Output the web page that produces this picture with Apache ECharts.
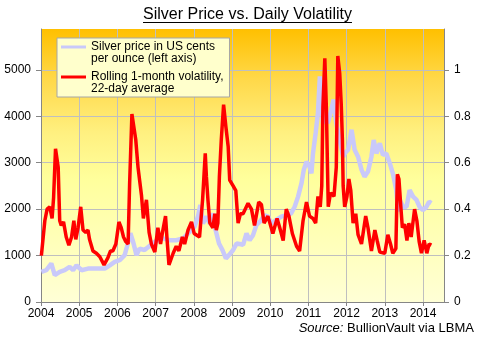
<!DOCTYPE html>
<html><head><meta charset="utf-8">
<script src="https://cdn.jsdelivr.net/npm/echarts@6/dist/echarts.min.js"></script>
<style>html,body{margin:0;padding:0;background:#fff}#c{width:480px;height:340px}</style>
</head><body><div id="c"></div>
<script>
const FONT = '"Liberation Sans", Arial, sans-serif';

const titleText = 'Silver Price vs. Daily Volatility';
const sourceLabel = 'Source:';
const sourceText = 'BullionVault via LBMA';
const seriesNames = ['Silver price in US cents\nper ounce (left axis)', 'Rolling 1-month volatility,\n22-day average'];

const priceDates = [2004.01,2004.14,2004.27,2004.36,2004.49,2004.62,2004.75,2004.84,2004.93,2005.06,2005.23,2005.45,2005.67,2005.80,2005.93,2006.06,2006.19,2006.25,2006.34,2006.41,2006.50,2006.58,2006.71,2006.98,2007.19,2007.37,2007.54,2007.72,2007.89,2008.02,2008.11,2008.17,2008.24,2008.33,2008.42,2008.50,2008.57,2008.66,2008.75,2008.84,2008.92,2009.03,2009.12,2009.20,2009.29,2009.38,2009.46,2009.55,2009.64,2009.73,2009.86,2009.94,2010.03,2010.16,2010.29,2010.42,2010.55,2010.64,2010.73,2010.82,2010.88,2010.95,2011.03,2011.08,2011.12,2011.19,2011.25,2011.30,2011.34,2011.38,2011.45,2011.51,2011.60,2011.66,2011.73,2011.82,2011.91,2011.95,2012.04,2012.13,2012.21,2012.30,2012.39,2012.47,2012.56,2012.65,2012.71,2012.78,2012.87,2012.95,2013.04,2013.13,2013.21,2013.30,2013.35,2013.39,2013.48,2013.57,2013.65,2013.74,2013.83,2013.91,2014.00,2014.09,2014.16,2014.22];
const priceCents = [650,685,830,580,650,685,755,685,790,685,720,720,720,790,865,900,1010,1190,1480,1300,1010,1150,1120,1300,1370,1330,1330,1370,1510,1620,1840,2090,1690,1840,1690,1910,1550,1260,1120,940,1010,1120,1260,1250,1230,1480,1330,1440,1660,1730,1870,1840,1690,1770,1840,1870,1910,2050,2270,2560,2850,3020,2920,2770,3200,3640,4070,4860,4430,3850,4000,3850,4140,4360,3850,3490,3130,3200,3280,3710,3280,3130,2850,2700,2810,3130,3490,3200,3420,3170,3200,2990,2770,2410,1950,2200,2050,2050,2410,2270,2200,2050,1980,2050,2160,2130];

const volDates = [2004.01,2004.10,2004.16,2004.23,2004.29,2004.33,2004.38,2004.40,2004.45,2004.49,2004.53,2004.59,2004.66,2004.73,2004.80,2004.86,2004.91,2004.97,2005.04,2005.10,2005.17,2005.23,2005.27,2005.36,2005.45,2005.54,2005.65,2005.75,2005.82,2005.88,2005.96,2006.04,2006.10,2006.16,2006.22,2006.28,2006.32,2006.38,2006.43,2006.48,2006.54,2006.63,2006.68,2006.76,2006.83,2006.89,2006.98,2007.06,2007.13,2007.18,2007.26,2007.30,2007.35,2007.46,2007.54,2007.61,2007.70,2007.76,2007.85,2007.94,2008.01,2008.15,2008.23,2008.27,2008.30,2008.33,2008.37,2008.42,2008.50,2008.55,2008.59,2008.63,2008.67,2008.72,2008.78,2008.84,2008.90,2008.94,2009.03,2009.10,2009.16,2009.22,2009.29,2009.42,2009.51,2009.59,2009.70,2009.77,2009.84,2009.94,2010.07,2010.18,2010.25,2010.34,2010.42,2010.49,2010.58,2010.69,2010.77,2010.86,2010.95,2011.03,2011.12,2011.19,2011.25,2011.31,2011.35,2011.38,2011.43,2011.47,2011.50,2011.52,2011.58,2011.63,2011.67,2011.73,2011.77,2011.82,2011.86,2011.89,2011.91,2011.95,2012.01,2012.06,2012.11,2012.17,2012.24,2012.30,2012.39,2012.50,2012.56,2012.65,2012.74,2012.80,2012.87,2013.00,2013.08,2013.15,2013.21,2013.29,2013.33,2013.37,2013.42,2013.46,2013.52,2013.58,2013.63,2013.69,2013.78,2013.84,2013.90,2013.96,2014.03,2014.10,2014.16,2014.22];
const volValues = [0.20,0.35,0.40,0.41,0.36,0.45,0.66,0.655,0.58,0.35,0.33,0.345,0.28,0.245,0.28,0.35,0.27,0.32,0.41,0.31,0.30,0.31,0.27,0.22,0.21,0.195,0.16,0.19,0.22,0.22,0.25,0.345,0.32,0.28,0.26,0.25,0.51,0.81,0.805,0.70,0.58,0.46,0.36,0.44,0.30,0.25,0.215,0.32,0.25,0.30,0.37,0.27,0.16,0.21,0.24,0.22,0.28,0.25,0.31,0.345,0.295,0.28,0.44,0.555,0.64,0.54,0.44,0.34,0.32,0.38,0.31,0.34,0.54,0.70,0.85,0.755,0.67,0.525,0.50,0.48,0.34,0.38,0.38,0.425,0.40,0.33,0.43,0.42,0.34,0.37,0.295,0.36,0.32,0.265,0.40,0.37,0.295,0.24,0.22,0.35,0.43,0.37,0.36,0.34,0.455,0.41,0.50,0.84,1.05,0.84,0.58,0.41,0.47,0.475,0.455,0.58,1.06,0.985,0.85,0.70,0.50,0.41,0.455,0.53,0.48,0.34,0.38,0.29,0.25,0.37,0.32,0.22,0.31,0.265,0.215,0.21,0.29,0.25,0.21,0.23,0.55,0.53,0.41,0.32,0.335,0.265,0.34,0.28,0.40,0.35,0.26,0.21,0.265,0.21,0.25,0.245];

const xMin = 2004, xMax = 2014.55;
const leftMax = 5880, rightMax = 1.176;

const PRICE_COLOR = '#C9C9FA';
const VOL_COLOR = '#FF0000';

const cv = document.createElement('canvas').getContext('2d');
cv.font = '16px ' + FONT;
const titleW = cv.measureText(titleText).width;
const titleX = 247.5;

const chart = echarts.init(document.getElementById('c'), null, {renderer: 'canvas'});
const axisLineStyle = {color: '#868686', width: 1};
const labelStyle = {fontFamily: FONT, fontSize: 12, color: '#000'};
const iconPath = 'path://M0,0L25,0M0,3.5L25,3.5L25,6.5L0,6.5ZM0,22L25,22';

chart.setOption({
  animation: false,
  grid: {
    left: 41, right: 36, top: 29, bottom: 38, show: true, borderWidth: 0,
    backgroundColor: new echarts.graphic.LinearGradient(0, 0, 0, 1, [
      {offset: 0, color: '#FFC000'},
      {offset: 0.18, color: '#FFD848'},
      {offset: 0.38, color: '#FFF080'},
      {offset: 0.55, color: '#FFFF9C'},
      {offset: 1, color: '#FFFFD6'}
    ])
  },
  legend: {
    orient: 'vertical', left: 57, top: 38, padding: [3, 6, 2, 4], itemGap: 6,
    itemWidth: 25, itemHeight: 22, symbolKeepAspect: false,
    backgroundColor: '#FFFFCC', borderColor: '#A6A6A6', borderWidth: 1, borderRadius: 0,
    textStyle: {fontFamily: FONT, fontSize: 12, lineHeight: 12, color: '#000'},
    itemStyle: {borderWidth: 0},
    selectedMode: false,
    data: [
      {name: seriesNames[0], icon: iconPath, itemStyle: {color: PRICE_COLOR, borderWidth: 0}},
      {name: seriesNames[1], icon: iconPath, itemStyle: {color: VOL_COLOR, borderWidth: 0}}
    ]
  },
  xAxis: {
    type: 'value', min: xMin, max: xMax, interval: 1,
    axisLine: {show: true, lineStyle: axisLineStyle},
    axisTick: {show: true, length: 4, lineStyle: axisLineStyle},
    axisLabel: Object.assign({margin: 6, showMaxLabel: false, formatter: v => String(Math.round(v))}, labelStyle),
    splitLine: {show: true, showMaxLine: false, lineStyle: {color: '#BFBFBF', width: 1}}
  },
  yAxis: [
    {
      type: 'value', min: 0, max: leftMax, interval: 1000, position: 'left',
      axisLine: {show: true, lineStyle: axisLineStyle},
      axisTick: {show: true, length: 5, lineStyle: axisLineStyle},
      axisLabel: Object.assign({margin: 10, showMaxLabel: false, formatter: v => String(Math.round(v))}, labelStyle),
      splitLine: {show: true, showMaxLine: false, lineStyle: {color: '#BFBFBF', width: 1}}
    },
    {
      type: 'value', min: 0, max: rightMax, interval: 0.2, position: 'right',
      axisLine: {show: true, lineStyle: axisLineStyle},
      axisTick: {show: true, length: 5, lineStyle: axisLineStyle},
      axisLabel: Object.assign({margin: 10, showMaxLabel: false, formatter: v => String(+v.toFixed(1))}, labelStyle),
      splitLine: {show: false}
    }
  ],
  series: [
    {
      type: 'line', name: seriesNames[0], yAxisIndex: 0,
      data: priceDates.map((d, i) => [d, priceCents[i]]),
      showSymbol: false, symbol: 'none',
      lineStyle: {color: PRICE_COLOR, width: 4.5}, itemStyle: {color: PRICE_COLOR}, z: 2
    },
    {
      type: 'line', name: seriesNames[1], yAxisIndex: 1,
      data: volDates.map((d, i) => [d, volValues[i]]),
      showSymbol: false, symbol: 'none',
      lineStyle: {color: VOL_COLOR, width: 3.5}, itemStyle: {color: VOL_COLOR}, z: 3
    }
  ],
  graphic: [
    {type: 'text', x: titleX, y: 15, silent: true,
     style: {text: titleText, font: '16px ' + FONT, fill: '#000', align: 'center', verticalAlign: 'middle'}},
    {type: 'line', silent: true,
     shape: {x1: titleX - titleW / 2, y1: 22.5, x2: titleX + titleW / 2, y2: 22.5},
     style: {stroke: '#000', lineWidth: 1}},
    {type: 'text', x: 474, y: 328, silent: true,
     style: {text: '{i|' + sourceLabel + '} {n|' + sourceText + '}', font: '13px ' + FONT, fill: '#000',
       align: 'right', verticalAlign: 'middle',
       rich: {i: {font: 'italic 13px ' + FONT, fill: '#000'}, n: {font: '13px ' + FONT, fill: '#000'}}}}
  ]
});
</script>
</body></html>
